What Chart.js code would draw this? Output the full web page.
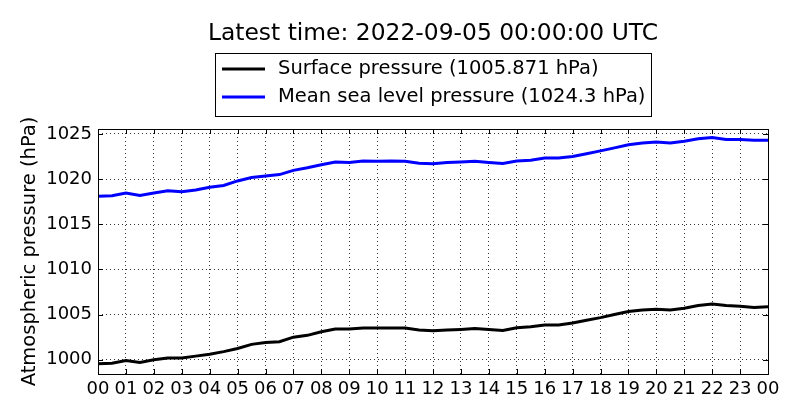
<!DOCTYPE html>
<html>
<head>
<meta charset="utf-8">
<script src="https://cdn.jsdelivr.net/npm/chart.js@4/dist/chart.umd.min.js"></script>
<style>
  html, body { margin: 0; padding: 0; background: #fff; }
  #wrap { width: 800px; height: 420px; }
</style>
</head>
<body>
<div id="wrap"><canvas id="pressureChart" width="800" height="420"></canvas></div>
<script>
// half-hourly readings, hours since 2022-09-04 00:00 UTC
const hours = [
  0, 0.5, 1, 1.5, 2, 2.5, 3, 3.5, 4, 4.5, 5, 5.5, 6, 6.5, 7, 7.5, 8, 8.5, 9, 9.5,
  10, 10.5, 11, 11.5, 12, 12.5, 13, 13.5, 14, 14.5, 15, 15.5, 16, 16.5, 17, 17.5,
  18, 18.5, 19, 19.5, 20, 20.5, 21, 21.5, 22, 22.5, 23, 23.5, 24
];
const surfacePressure = [
  999.56, 999.6, 999.9, 999.7, 1000.0, 1000.2, 1000.2, 1000.4, 1000.6, 1000.9,
  1001.25, 1001.7, 1001.9, 1002.0, 1002.5, 1002.7, 1003.1, 1003.4, 1003.4, 1003.5,
  1003.5, 1003.5, 1003.5, 1003.3, 1003.2, 1003.28, 1003.36, 1003.47, 1003.36, 1003.25,
  1003.55, 1003.66, 1003.84, 1003.84, 1004.07, 1004.37, 1004.66, 1005.0, 1005.34, 1005.5,
  1005.6, 1005.5, 1005.7, 1006.0, 1006.16, 1006.0, 1005.93, 1005.78, 1005.87
];
const seaLevelPressure = [
  1018.1, 1018.15, 1018.47, 1018.2, 1018.47, 1018.7, 1018.6, 1018.8, 1019.1, 1019.3,
  1019.8, 1020.17, 1020.35, 1020.5, 1020.97, 1021.26, 1021.6, 1021.9, 1021.85, 1022.0,
  1021.98, 1022.0, 1021.98, 1021.76, 1021.7, 1021.85, 1021.9, 1021.97, 1021.85, 1021.74,
  1022.0, 1022.1, 1022.33, 1022.33, 1022.5, 1022.8, 1023.13, 1023.46, 1023.8, 1024.0,
  1024.1, 1024.0, 1024.2, 1024.47, 1024.6, 1024.4, 1024.4, 1024.3, 1024.3
];
const hourTicks = [0, 1, 2, 3, 4, 5, 6, 7, 8, 9, 10, 11, 12, 13, 14, 15, 16, 17, 18, 19, 20, 21, 22, 23, 24];
const hourLabels = ['00', '01', '02', '03', '04', '05', '06', '07', '08', '09', '10', '11',
  '12', '13', '14', '15', '16', '17', '18', '19', '20', '21', '22', '23', '00'];
const pressureTicks = [1000, 1005, 1010, 1015, 1020, 1025];

const titleText = 'Latest time: 2022-09-05 00:00:00 UTC';
const FONT = '"DejaVu Sans", sans-serif';

// title, boxed legend, plot frame and inward ticks (matplotlib look)
const framePlugin = {
  id: 'frame',
  afterDraw(chart) {
    const { ctx, chartArea: a } = chart;
    const xs = chart.scales.x, ys = chart.scales.y;
    ctx.save();
    ctx.strokeStyle = '#000';
    ctx.lineWidth = 1;
    ctx.beginPath();
    hourTicks.forEach(h => {
      const px = Math.round(xs.getPixelForValue(h)) + 0.5;
      ctx.moveTo(px, a.bottom); ctx.lineTo(px, a.bottom - 5);
      ctx.moveTo(px, a.top); ctx.lineTo(px, a.top + 5);
    });
    pressureTicks.forEach(v => {
      const py = Math.round(ys.getPixelForValue(v)) + 0.5;
      ctx.moveTo(a.left, py); ctx.lineTo(a.left + 5, py);
      ctx.moveTo(a.right, py); ctx.lineTo(a.right - 5, py);
    });
    ctx.stroke();
    ctx.strokeRect(Math.round(a.left) + 0.5, Math.round(a.top) + 0.5,
      Math.round(a.right - a.left), Math.round(a.bottom - a.top));

    // title
    ctx.fillStyle = '#000';
    ctx.font = '23.4px ' + FONT;
    ctx.textAlign = 'center';
    ctx.textBaseline = 'middle';
    ctx.fillText(titleText, (a.left + a.right) / 2, 34);

    // legend box
    ctx.strokeRect(215.5, 53.5, 436, 63);
    ctx.font = '19.5px ' + FONT;
    ctx.textAlign = 'left';
    chart.data.datasets.forEach((ds, i) => {
      const y = 69 + i * 28;
      ctx.strokeStyle = ds.borderColor;
      ctx.lineWidth = 3;
      ctx.beginPath();
      ctx.moveTo(222, y); ctx.lineTo(265, y);
      ctx.stroke();
      ctx.fillText(ds.label, 278, y);
    });
    ctx.restore();
  }
};

new Chart(document.getElementById('pressureChart'), {
  type: 'line',
  data: {
    datasets: [
      {
        label: 'Surface pressure (1005.871 hPa)',
        data: hours.map((h, i) => ({ x: h, y: surfacePressure[i] })),
        borderColor: '#000000',
        borderWidth: 3,
        pointRadius: 0,
        tension: 0
      },
      {
        label: 'Mean sea level pressure (1024.3 hPa)',
        data: hours.map((h, i) => ({ x: h, y: seaLevelPressure[i] })),
        borderColor: '#0000ff',
        borderWidth: 3,
        pointRadius: 0,
        tension: 0
      }
    ]
  },
  options: {
    responsive: false,
    animation: false,
    devicePixelRatio: 1,
    layout: { padding: { left: 0, top: 129, right: 32, bottom: 0 } },
    plugins: {
      legend: { display: false },
      title: { display: false },
      tooltip: { enabled: false }
    },
    scales: {
      x: {
        type: 'linear',
        min: 0,
        max: 24,
        afterBuildTicks: s => { s.ticks = hourTicks.map(v => ({ value: v })); },
        afterFit: s => { s.height = 46; },
        ticks: {
          autoSkip: false,
          maxRotation: 0,
          padding: 5,
          color: '#000',
          font: { family: FONT, size: 18 },
          callback: v => hourLabels[hourTicks.indexOf(v)]
        },
        grid: {
          color: 'rgba(0,0,0,0.8)',
          lineWidth: 1,
          drawTicks: false
        },
        border: { display: false, dash: [1, 3] }
      },
      y: {
        min: 998.42,
        max: 1025.55,
        afterBuildTicks: s => { s.ticks = pressureTicks.map(v => ({ value: v })); },
        afterFit: s => { s.width = 98; },
        ticks: {
          padding: 6,
          color: '#000',
          font: { family: FONT, size: 18 },
          callback: v => String(v)
        },
        grid: {
          color: 'rgba(0,0,0,0.8)',
          lineWidth: 1,
          drawTicks: false
        },
        border: { display: false, dash: [1, 3] },
        title: {
          display: true,
          text: 'Atmospheric pressure (hPa)',
          color: '#000',
          font: { family: FONT, size: 19.5 },
          padding: { top: 18, bottom: 0 }
        }
      }
    }
  },
  plugins: [framePlugin]
});
</script>
</body>
</html>
